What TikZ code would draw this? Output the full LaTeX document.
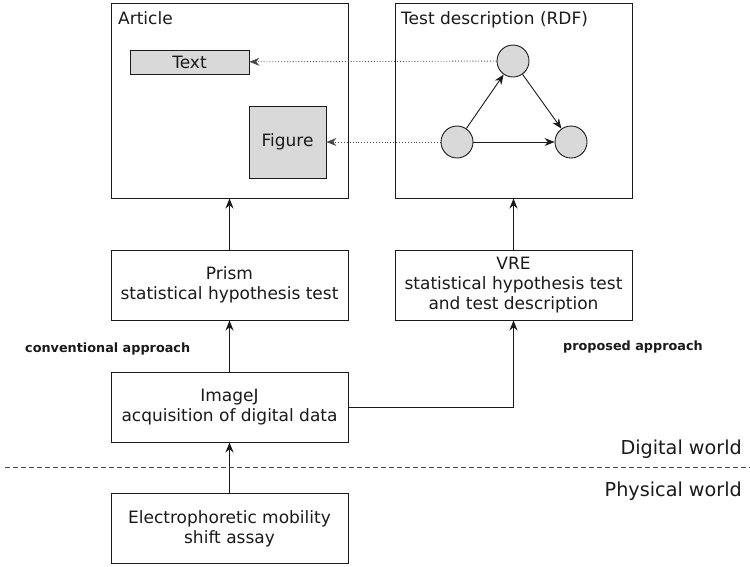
\documentclass[tikz,border=0pt]{standalone}
\usepackage{fontspec}
\setmainfont{DejaVu Sans}
\usetikzlibrary{arrows.meta}
\definecolor{boxgray}{HTML}{D9D9D9}
\definecolor{ink}{HTML}{1A1A1A}
\begin{document}
\begin{tikzpicture}[x=1pt,y=-1pt,
  box/.style={draw=ink,line width=1pt,fill=white,text=ink,align=center,inner sep=0pt,font=\fontsize{17}{20}\selectfont},
  gbox/.style={draw=ink,line width=0.9pt,fill=boxgray,text=ink,inner sep=0pt,font=\fontsize{17}{20}\selectfont},
  circ/.style={draw=ink,line width=0.9pt,fill=boxgray,circle,minimum size=32pt,inner sep=0pt},
  arr/.style={draw=ink,line width=0.9pt,-{Stealth[length=10pt,width=8pt]}},
  dotarr/.style={draw=ink!80,line width=0.9pt,dotted,-{Stealth[length=10pt,width=8pt]}},
  lbl/.style={text=ink,font=\fontsize{17}{20}\selectfont,inner sep=0pt},
  small/.style={text=ink,font=\fontsize{12.8}{15}\selectfont\bfseries,inner sep=0pt}]
\useasboundingbox (0,0) rectangle (750,566);
% big boxes
\node[box,minimum width=237pt,minimum height=195pt] (article) at (229.5,100.5) {};
\node[box,minimum width=237pt,minimum height=195pt] (rdf) at (513.5,100.5) {};
\node[lbl,anchor=base west] (articlelbl) at (118,24) {Article};
\node[lbl,anchor=base west] (rdflbl) at (401,24) {Test description (RDF)};
% text & figure
\node[gbox,minimum width=119pt,minimum height=24pt] (text) at (189.5,62) {Text};
\node[gbox,minimum width=77pt,minimum height=72pt] (figure) at (287.5,142) {Figure};
% graph
\node[circ] (ctop) at (513,61) {};
\node[circ] (cleft) at (457,142) {};
\node[circ] (cright) at (571,142) {};
\draw[arr] (cleft) -- (ctop);
\draw[arr] (ctop) -- (cright);
\draw[arr] (cleft) -- (cright);
\draw[dotarr] (ctop) -- (text);
\draw[dotarr] (cleft) -- (figure);
% process boxes
\node[box,minimum width=237pt,minimum height=70pt] (prism) at (229.5,285) {Prism\\statistical hypothesis test};
\node[box,minimum width=237pt,minimum height=70pt] (vre) at (513.5,285) {VRE\\statistical hypothesis test\\and test description};
\node[box,minimum width=237pt,minimum height=70pt] (imagej) at (229.5,407) {ImageJ\\acquisition of digital data};
\node[box,minimum width=237pt,minimum height=70pt] (emsa) at (229.5,528.5) {Electrophoretic mobility\\shift assay};
\draw[arr] (emsa) -- (imagej);
\draw[arr] (imagej) -- (prism);
\draw[arr] (prism) -- (article);
\draw[arr] (vre) -- (rdf);
\draw[arr] (imagej.east) -| (vre.south);
% labels
\node[small,anchor=base west] (conv) at (25,352) {conventional approach};
\node[small,anchor=base west] (prop) at (563,350) {proposed approach};
\coordinate (dl) at (5,467);
\coordinate (dr) at (750,467);
\draw[draw=ink!80,line width=0.9pt,dash pattern=on 5pt off 3pt] (dl) -- (dr);
\node[lbl,anchor=base east,font=\fontsize{19.2}{22}\selectfont] (digital) at (742,454) {Digital world};
\node[lbl,anchor=base east,font=\fontsize{19.2}{22}\selectfont] (physical) at (742,496) {Physical world};
\end{tikzpicture}
\end{document}
